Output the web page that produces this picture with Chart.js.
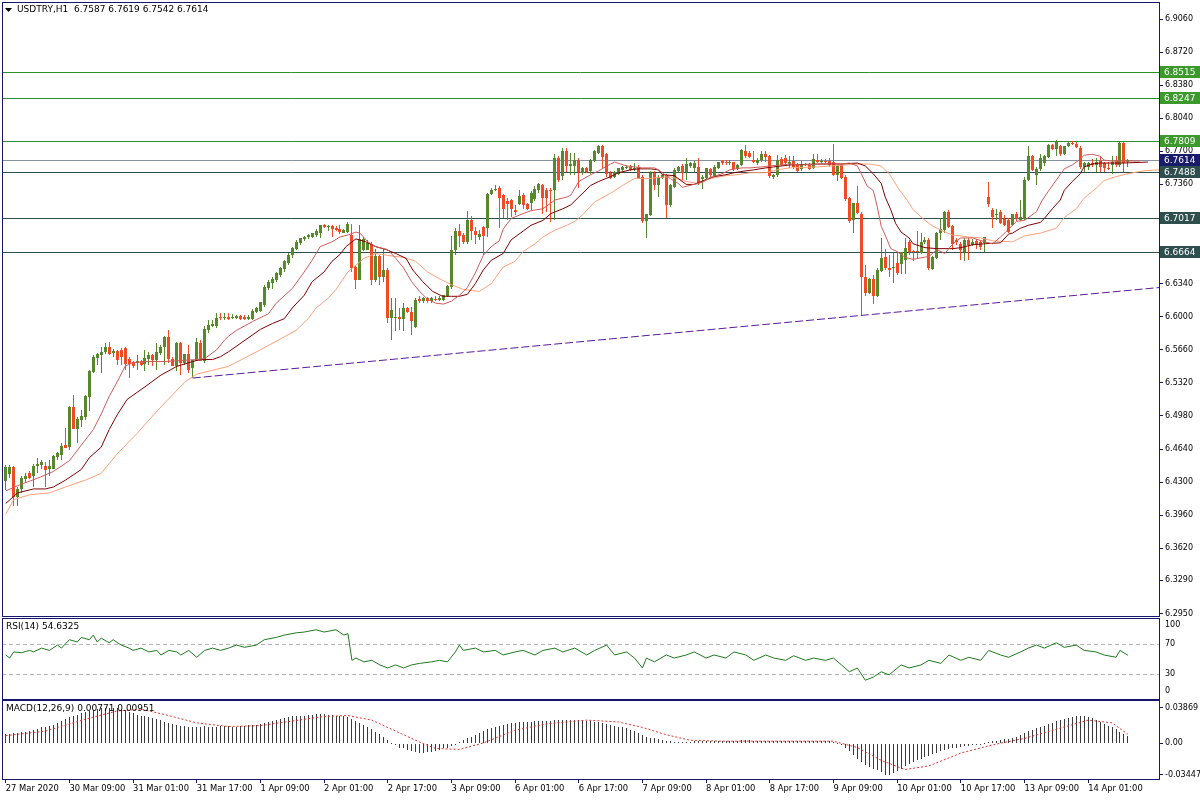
<!DOCTYPE html>
<html>
<head>
<meta charset="utf-8">
<title>USDTRY,H1</title>
<script src="https://cdn.jsdelivr.net/npm/chart.js@4.4.1/dist/chart.umd.min.js"></script>
<style>
  html, body { margin: 0; padding: 0; background: #fff; }
  #wrap { position: relative; width: 1200px; height: 800px; overflow: hidden; }
  canvas { position: absolute; left: 0; }
  #priceChart { top: 0; }
  #rsiChart { top: 617px; }
  #macdChart { top: 699px; }
</style>
</head>
<body>
<div id="wrap">
  <canvas id="priceChart" width="1200" height="617"></canvas>
  <canvas id="rsiChart" width="1200" height="83"></canvas>
  <canvas id="macdChart" width="1200" height="101"></canvas>
</div>
<script>
// ---- data ----
const symbolTitle = 'USDTRY,H1';
const lastQuote = ['6.7587', '6.7619', '6.7542', '6.7614'];

// hourly candles, bar 0 = 27 Mar 17:00
const opens = [
  6.431,6.438,6.446,6.415,6.423,6.433,6.439,6.436,6.447,6.448,
  6.447,6.443,6.444,6.456,6.458,6.468,6.466,6.507,6.485,6.494,
  6.497,6.518,6.543,6.558,6.561,6.564,6.569,6.563,6.565,6.566,
  6.568,6.557,6.553,6.552,6.554,6.551,6.557,6.561,6.556,6.563,
  6.569,6.579,6.557,6.549,6.573,6.552,6.562,6.547,6.555,6.573,
  6.555,6.586,6.590,6.590,6.600,6.599,6.600,6.599,6.599,6.601,
  6.600,6.598,6.598,6.605,6.606,6.612,6.630,6.635,6.638,6.643,
  6.649,6.655,6.663,6.670,6.676,6.680,6.682,6.682,6.684,6.686,
  6.694,6.692,6.693,6.691,6.690,6.686,6.687,6.684,6.651,6.638,
  6.669,6.669,6.675,6.638,6.662,6.641,6.648,6.599,6.599,6.600,
  6.598,6.609,6.605,6.589,6.618,6.616,6.619,6.616,6.618,6.617,
  6.617,6.621,6.631,6.669,6.688,6.684,6.677,6.699,6.688,6.682,
  6.692,6.691,6.726,6.730,6.732,6.725,6.719,6.720,6.710,6.716,
  6.725,6.716,6.717,6.721,6.730,6.735,6.730,6.730,6.730,6.763,
  6.745,6.770,6.755,6.755,6.761,6.748,6.753,6.750,6.760,6.768,
  6.776,6.767,6.748,6.744,6.747,6.751,6.753,6.754,6.752,6.754,
  6.744,6.698,6.705,6.748,6.735,6.743,6.746,6.715,6.733,6.750,
  6.755,6.749,6.755,6.753,6.754,6.742,6.743,6.752,6.745,6.753,
  6.760,6.759,6.758,6.759,6.752,6.756,6.770,6.768,6.761,6.758,
  6.761,6.767,6.765,6.744,6.746,6.762,6.763,6.757,6.760,6.756,
  6.752,6.757,6.756,6.753,6.761,6.759,6.760,6.760,6.759,6.746,
  6.756,6.744,6.722,6.699,6.717,6.706,6.641,6.624,6.639,6.621,
  6.647,6.661,6.650,6.650,6.655,6.654,6.658,6.677,6.668,6.668,
  6.666,6.677,6.679,6.649,6.660,6.686,6.689,6.708,6.693,6.679,
  6.675,6.667,6.679,6.674,6.678,6.677,6.676,6.723,6.710,6.705,
  6.708,6.700,6.699,6.694,6.706,6.699,6.700,6.741,6.765,6.746,
  6.752,6.758,6.764,6.777,6.772,6.775,6.767,6.775,6.779,6.778,
  6.773,6.754,6.754,6.758,6.756,6.761,6.758,6.753,6.756,6.761,
  6.756,6.779,6.7587
];
const highs = [
  6.448,6.448,6.447,6.425,6.436,6.439,6.441,6.449,6.455,6.453,
  6.451,6.453,6.458,6.461,6.470,6.486,6.508,6.520,6.497,6.504,
  6.520,6.545,6.561,6.563,6.569,6.573,6.574,6.567,6.566,6.568,
  6.569,6.559,6.554,6.561,6.556,6.566,6.564,6.562,6.573,6.571,
  6.580,6.586,6.559,6.574,6.574,6.562,6.571,6.556,6.578,6.576,
  6.590,6.597,6.597,6.604,6.604,6.604,6.604,6.603,6.602,6.602,
  6.602,6.602,6.608,6.610,6.615,6.633,6.638,6.641,6.646,6.651,
  6.658,6.665,6.672,6.679,6.681,6.683,6.685,6.686,6.690,6.694,
  6.695,6.694,6.694,6.693,6.694,6.690,6.697,6.695,6.652,6.694,
  6.682,6.679,6.677,6.670,6.663,6.670,6.650,6.619,6.619,6.609,
  6.614,6.610,6.610,6.619,6.621,6.620,6.620,6.620,6.621,6.621,
  6.622,6.633,6.683,6.691,6.695,6.686,6.709,6.704,6.692,6.689,
  6.693,6.727,6.732,6.735,6.734,6.726,6.722,6.721,6.715,6.730,
  6.727,6.717,6.729,6.734,6.737,6.736,6.732,6.732,6.767,6.765,
  6.773,6.773,6.768,6.768,6.763,6.754,6.754,6.762,6.771,6.777,
  6.777,6.768,6.750,6.750,6.753,6.755,6.756,6.756,6.758,6.756,
  6.746,6.706,6.750,6.750,6.746,6.747,6.747,6.736,6.753,6.755,
  6.757,6.763,6.759,6.760,6.763,6.746,6.753,6.753,6.756,6.759,
  6.761,6.761,6.761,6.759,6.757,6.772,6.777,6.770,6.770,6.763,
  6.770,6.770,6.766,6.747,6.766,6.764,6.766,6.765,6.765,6.758,
  6.760,6.758,6.758,6.767,6.767,6.762,6.762,6.763,6.778,6.756,
  6.757,6.746,6.723,6.717,6.734,6.708,6.653,6.640,6.643,6.650,
  6.681,6.670,6.663,6.665,6.665,6.667,6.681,6.679,6.669,6.688,
  6.686,6.682,6.681,6.662,6.687,6.701,6.709,6.710,6.694,6.681,
  6.677,6.681,6.681,6.680,6.680,6.679,6.682,6.738,6.712,6.711,
  6.710,6.705,6.701,6.706,6.708,6.720,6.744,6.775,6.766,6.754,
  6.767,6.766,6.778,6.778,6.782,6.777,6.775,6.780,6.781,6.780,
  6.775,6.759,6.759,6.762,6.763,6.765,6.759,6.759,6.765,6.765,
  6.780,6.780,6.7619
];
const lows = [
  6.422,6.434,6.405,6.405,6.419,6.429,6.433,6.425,6.439,6.443,
  6.425,6.436,6.443,6.453,6.453,6.465,6.463,6.485,6.470,6.487,
  6.494,6.503,6.542,6.550,6.542,6.562,6.561,6.559,6.550,6.550,
  6.545,6.537,6.547,6.545,6.549,6.544,6.550,6.549,6.545,6.561,
  6.550,6.552,6.549,6.544,6.540,6.550,6.542,6.537,6.554,6.554,
  6.552,6.583,6.589,6.588,6.597,6.597,6.597,6.598,6.598,6.597,
  6.597,6.597,6.597,6.604,6.605,6.610,6.627,6.629,6.636,6.641,
  6.646,6.653,6.660,6.669,6.674,6.678,6.680,6.681,6.682,6.681,
  6.691,6.688,6.682,6.688,6.685,6.686,6.686,6.646,6.628,6.638,
  6.668,6.669,6.633,6.636,6.633,6.636,6.594,6.576,6.585,6.586,
  6.585,6.604,6.581,6.588,6.614,6.614,6.614,6.614,6.616,6.616,
  6.616,6.620,6.629,6.663,6.672,6.675,6.675,6.679,6.675,6.679,
  6.663,6.682,6.725,6.729,6.691,6.701,6.699,6.703,6.705,6.715,
  6.711,6.710,6.710,6.719,6.727,6.706,6.708,6.697,6.699,6.739,
  6.741,6.749,6.746,6.746,6.732,6.746,6.748,6.747,6.759,6.767,
  6.753,6.744,6.742,6.743,6.746,6.750,6.752,6.750,6.750,6.742,
  6.696,6.681,6.704,6.730,6.723,6.742,6.701,6.713,6.732,6.748,
  6.741,6.741,6.753,6.749,6.735,6.731,6.742,6.743,6.743,6.752,
  6.756,6.756,6.756,6.750,6.751,6.755,6.763,6.763,6.758,6.756,
  6.759,6.759,6.743,6.742,6.744,6.755,6.756,6.753,6.752,6.749,
  6.750,6.755,6.751,6.752,6.758,6.758,6.758,6.754,6.745,6.740,
  6.742,6.719,6.696,6.686,6.706,6.602,6.621,6.623,6.613,6.620,
  6.646,6.648,6.641,6.635,6.643,6.644,6.644,6.663,6.657,6.660,
  6.664,6.675,6.648,6.648,6.659,6.679,6.686,6.691,6.669,6.674,
  6.658,6.657,6.658,6.673,6.670,6.669,6.667,6.713,6.691,6.699,
  6.695,6.693,6.686,6.693,6.698,6.698,6.699,6.740,6.750,6.735,
  6.750,6.755,6.763,6.771,6.765,6.765,6.766,6.774,6.777,6.773,
  6.752,6.749,6.751,6.754,6.749,6.749,6.749,6.751,6.747,6.754,
  6.754,6.749,6.7542
];
const closes = [
  6.446,6.446,6.415,6.423,6.434,6.436,6.434,6.447,6.449,6.451,
  6.442,6.447,6.457,6.460,6.467,6.465,6.507,6.485,6.495,6.498,
  6.519,6.544,6.559,6.562,6.564,6.569,6.562,6.565,6.556,6.559,
  6.551,6.551,6.549,6.554,6.550,6.558,6.561,6.556,6.564,6.569,
  6.579,6.557,6.549,6.573,6.552,6.562,6.545,6.556,6.574,6.554,
  6.587,6.591,6.593,6.599,6.599,6.600,6.598,6.600,6.601,6.598,
  6.598,6.600,6.606,6.609,6.615,6.631,6.636,6.639,6.645,6.650,
  6.657,6.663,6.671,6.677,6.681,6.682,6.684,6.686,6.688,6.694,
  6.692,6.693,6.690,6.689,6.687,6.689,6.695,6.650,6.638,6.680,
  6.680,6.676,6.638,6.662,6.641,6.648,6.599,6.607,6.600,6.598,
  6.609,6.605,6.596,6.617,6.616,6.619,6.616,6.619,6.617,6.619,
  6.622,6.632,6.669,6.688,6.683,6.677,6.699,6.688,6.684,6.685,
  6.683,6.726,6.730,6.731,6.722,6.711,6.716,6.711,6.708,6.724,
  6.715,6.711,6.727,6.731,6.736,6.722,6.722,6.729,6.763,6.741,
  6.770,6.755,6.757,6.761,6.749,6.753,6.749,6.761,6.770,6.776,
  6.764,6.747,6.743,6.749,6.753,6.754,6.754,6.751,6.753,6.742,
  6.698,6.706,6.748,6.735,6.744,6.746,6.715,6.735,6.751,6.754,
  6.748,6.757,6.758,6.758,6.737,6.744,6.753,6.746,6.754,6.759,
  6.758,6.758,6.759,6.752,6.756,6.771,6.765,6.764,6.759,6.761,
  6.767,6.764,6.745,6.746,6.761,6.756,6.758,6.759,6.754,6.750,
  6.757,6.756,6.752,6.762,6.759,6.760,6.759,6.756,6.746,6.755,
  6.743,6.721,6.698,6.717,6.707,6.641,6.624,6.639,6.621,6.648,
  6.660,6.650,6.648,6.651,6.645,6.667,6.671,6.667,6.667,6.667,
  6.677,6.679,6.650,6.661,6.686,6.690,6.708,6.692,6.675,6.677,
  6.669,6.679,6.674,6.677,6.674,6.672,6.682,6.716,6.703,6.706,
  6.696,6.694,6.687,6.706,6.700,6.703,6.741,6.765,6.751,6.752,
  6.763,6.765,6.777,6.772,6.781,6.767,6.775,6.779,6.778,6.774,
  6.754,6.758,6.758,6.756,6.759,6.754,6.753,6.752,6.759,6.756,
  6.779,6.758,6.7614
];

// moving average lines, read at turning points (bar position, price)
const maFastBars = [0,4,8,12,16,19,22,24,26,28,30,32,36,40,44,48,50,53,55,56,58,62,63,66,68,72,75,77,79,82,84,86,88,89,91,93,96,98,100,102,104,106,108,110,112,114,116,118,120,122,124,125,127,130,132,135,136,138,141,142,144,147,149,152,153,156,158,160,163,164,165,167,169,170,172,175,177,180,182,185,187,190,192,195,197,200,206,210,212,214,215,216.5,218,219,220,221.5,222.4,224,226,228,232,234,236,238,240,243,246,248,250,252,254,256,259,260.5,262,264.6,266,268,270,271,273,275,276,278,281,285];
const maFastValues = [6.421,6.428,6.434,6.441,6.452,6.468,6.484,6.500,6.518,6.533,6.549,6.553,6.554,6.554,6.555,6.556,6.557,6.566,6.576,6.580,6.586,6.595,6.597,6.603,6.614,6.629,6.646,6.658,6.672,6.677,6.682,6.684,6.687,6.686,6.677,6.672,6.669,6.660,6.650,6.636,6.626,6.618,6.614,6.613,6.616,6.622,6.630,6.645,6.663,6.672,6.678,6.690,6.701,6.706,6.709,6.711,6.714,6.720,6.723,6.725,6.739,6.746,6.750,6.757,6.759,6.755,6.754,6.753,6.753,6.751,6.748,6.742,6.737,6.733,6.735,6.738,6.743,6.747,6.751,6.753,6.753,6.754,6.755,6.756,6.757,6.756,6.757,6.757,6.758,6.755,6.747,6.734,6.730,6.713,6.693,6.679,6.670,6.667,6.661,6.659,6.662,6.669,6.665,6.675,6.681,6.681,6.677,6.675,6.682,6.690,6.698,6.699,6.708,6.720,6.729,6.744,6.752,6.756,6.762,6.766,6.767,6.765,6.761,6.760,6.760,6.760];
const maMidBars = [0,3,7,10,12,15,19,21,24,26,28,30.5,35,39,43,47,49,52,54,56,64,67,70,72,75,77,80,82,84,85.5,88,90.5,93,95.6,98,100.6,102.3,104.8,107.3,109.8,112,114,116,118,120,122,125,127,130,132,135,137,140,142,144,147,149,152,154,157,159,162,164,165,168,171,173,176,178,181,183,186,188,191,193,197,204,210,214,216,218,220,221,222.4,223.6,225,227,228,231,234,238,240,243,246,250,252,253,255,257,260,261,263,265,266,268,270,271,273,275,281,287];
const maMidValues = [6.408,6.419,6.423,6.423,6.425,6.432,6.443,6.455,6.466,6.484,6.499,6.515,6.528,6.540,6.549,6.554,6.556,6.556,6.559,6.564,6.587,6.593,6.598,6.609,6.622,6.636,6.646,6.657,6.664,6.672,6.680,6.677,6.672,6.669,6.665,6.660,6.648,6.636,6.626,6.621,6.621,6.621,6.623,6.634,6.648,6.658,6.665,6.679,6.688,6.694,6.699,6.706,6.711,6.715,6.723,6.735,6.739,6.744,6.748,6.751,6.752,6.752,6.751,6.746,6.745,6.736,6.736,6.741,6.744,6.746,6.748,6.750,6.751,6.753,6.754,6.756,6.757,6.757,6.758,6.755,6.747,6.737,6.723,6.710,6.696,6.687,6.681,6.675,6.671,6.670,6.670,6.671,6.674,6.675,6.676,6.685,6.686,6.691,6.694,6.697,6.701,6.711,6.720,6.730,6.739,6.747,6.754,6.757,6.758,6.758,6.759];
const maSlowBars = [0,2,6,11,15,20,24,28,33,38,42,45,48,52,56,64,73,76,78,81,83,86,90,93,96,100,103,106,109,112,115,119,122,125,128,130,133,135,138,141,143,145,148,152,155,158,161,164,167,171,174,177,181,184,187,191,194,197,204,211,214,217,220,222,224,225,226.5,228,231,233,236,238,242,245,248,253,256,260,264,266,269,271,274,276,279,282,286,289.8];
const maSlowValues = [6.397,6.412,6.417,6.419,6.425,6.432,6.439,6.459,6.480,6.503,6.520,6.533,6.541,6.545,6.549,6.566,6.586,6.598,6.609,6.619,6.628,6.646,6.660,6.665,6.663,6.661,6.657,6.646,6.639,6.633,6.628,6.626,6.634,6.651,6.657,6.667,6.675,6.682,6.689,6.694,6.698,6.705,6.718,6.727,6.735,6.742,6.742,6.743,6.744,6.739,6.737,6.742,6.745,6.746,6.748,6.748,6.751,6.753,6.754,6.756,6.757,6.757,6.755,6.747,6.734,6.728,6.720,6.710,6.699,6.693,6.687,6.684,6.682,6.681,6.678,6.677,6.683,6.686,6.691,6.702,6.711,6.722,6.732,6.740,6.744,6.747,6.750,6.751];

// trend line anchors and horizontal levels
const trendBars = [47, 289.8];
const trendPrices = [6.537, 6.630];
const levelPrices = [6.8515, 6.8247, 6.7809, 6.7614, 6.7488, 6.7017, 6.6664];
const priceTicks = [6.2950,6.3290,6.3620,6.3960,6.4300,6.4640,6.4980,6.5320,6.5660,6.6000,6.6340,6.7360,6.7700,6.8040,6.8380,6.8720,6.9060];

// RSI(14), read at its turning points
const rsiLast = '54.6325';
const rsiBars = [0,1,2,4,6,7,9,11,13,14,16,18,19,21,22,23,24,26,27,29,31,32,34,36,38,39,41,43,44,46,48,50,52,54,56,58,60,63,65,68,70,73,75,78,80,83,85,86,87,88,90,92,94,96,98,100,102,104,107,109,111,113,114,115,118,120,123,125,128,130,133,135,138,140,143,146,148,151,153,156,158,160,161,163,166,168,171,173,176,178,181,183,186,188,191,193,196,198,201,203,206,208,210,212,214,216,218,220,222,225,227,230,232,235,237,240,242,245,247,250,252,255,257,259,261,264,266,269,271,274,276,279,280,282];
const rsiValues = [55,51,59,58,61,59,64,61,68,64,75,72,78,75,81,72,77,71,75,68,64,61,64,59,61,55,61,59,55,61,52,61,64,61,64,68,65,68,75,78,81,84,85,88,85,88,81,83,48,51,46,48,42,38,42,38,42,44,46,48,46,59,68,61,64,59,61,55,59,61,55,61,64,59,64,55,61,68,55,59,51,38,51,46,55,51,55,59,51,55,51,59,55,48,55,51,48,54,48,51,48,51,42,33,38,22,26,33,29,42,38,42,48,44,55,48,52,48,61,55,52,59,64,68,64,71,65,68,61,59,55,52,61,54.63];
const rsiLevels = [70, 30];
const rsiTicks = [100, 70, 30, 0];

// MACD(12,26,9): main value per bar and signal line
const macdLast = ['0.00771', '0.00951'];
const macdValues = [
  0.010,0.010,0.011,0.011,0.012,0.012,0.013,0.014,0.015,0.017,
  0.018,0.019,0.020,0.022,0.024,0.026,0.028,0.030,0.031,0.033,
  0.034,0.035,0.036,0.037,0.038,0.0387,0.0387,0.0385,0.038,0.037,
  0.036,0.034,0.033,0.031,0.030,0.029,0.028,0.027,0.026,0.025,
  0.023,0.022,0.021,0.020,0.019,0.019,0.018,0.018,0.017,0.018,
  0.019,0.018,0.018,0.018,0.019,0.019,0.019,0.018,0.018,0.019,
  0.019,0.020,0.020,0.020,0.021,0.022,0.023,0.024,0.025,0.026,
  0.027,0.028,0.029,0.029,0.030,0.030,0.031,0.031,0.032,0.032,
  0.032,0.031,0.031,0.030,0.030,0.029,0.028,0.026,0.024,0.022,
  0.020,0.017,0.015,0.012,0.010,0.007,0.003,0.000,-0.002,-0.005,
  -0.006,-0.008,-0.009,-0.010,-0.011,-0.011,-0.010,-0.010,-0.009,-0.008,
  -0.006,-0.005,-0.003,-0.001,0.001,0.003,0.005,0.007,0.009,0.011,
  0.013,0.015,0.016,0.018,0.019,0.020,0.021,0.022,0.022,0.023,
  0.023,0.023,0.023,0.024,0.024,0.024,0.024,0.024,0.025,0.025,
  0.025,0.025,0.025,0.025,0.025,0.025,0.024,0.024,0.023,0.023,
  0.022,0.021,0.020,0.019,0.018,0.017,0.016,0.014,0.013,0.011,
  0.009,0.007,0.006,0.005,0.004,0.003,0.002,0.002,0.001,0.001,
  0.001,0.001,0.001,0.002,0.002,0.002,0.002,0.002,0.002,0.002,
  0.002,0.002,0.002,0.002,0.002,0.003,0.003,0.003,0.002,0.002,
  0.002,0.002,0.002,0.002,0.002,0.002,0.002,0.002,0.002,0.002,
  0.002,0.002,0.002,0.002,0.002,0.002,0.002,0.002,0.001,0.000,
  -0.002,-0.005,-0.009,-0.013,-0.018,-0.021,-0.024,-0.026,-0.028,-0.030,
  -0.032,-0.0345,-0.0345,-0.033,-0.031,-0.028,-0.025,-0.023,-0.021,-0.019,
  -0.017,-0.015,-0.014,-0.012,-0.011,-0.009,-0.008,-0.007,-0.006,-0.005,
  -0.004,-0.003,-0.003,-0.002,-0.001,-0.001,0.000,0.001,0.002,0.002,
  0.003,0.004,0.004,0.005,0.007,0.009,0.011,0.013,0.014,0.016,
  0.018,0.019,0.021,0.022,0.024,0.025,0.026,0.027,0.028,0.029,
  0.029,0.029,0.028,0.027,0.025,0.023,0.021,0.019,0.017,0.015,
  0.012,0.010,0.0077
];
const signalBars = [0,10,20,28,34,40,48,56,64,72,80,86,92,98,104,108,114,120,128,136,146,154,160,166,172,180,208,214,220,226,232,240,248,256,264,272,278,282];
const signalValues = [0.008,0.013,0.026,0.035,0.037,0.031,0.022,0.018,0.019,0.024,0.029,0.030,0.025,0.013,0.001,-0.006,-0.007,0.000,0.014,0.021,0.025,0.023,0.017,0.009,0.003,0.002,0.002,-0.005,-0.019,-0.029,-0.025,-0.011,-0.002,0.005,0.015,0.025,0.022,0.0095];
const macdTicks = [0.03869, 0, -0.03447];

// x axis labels, one every 16 bars
const xTickBars = [0,16,32,48,64,80,96,112,128,144,160,176,192,208,224,240,256,272];
const xTickLabels = ['27 Mar 2020','30 Mar 09:00','31 Mar 01:00','31 Mar 17:00','1 Apr 09:00','2 Apr 01:00','2 Apr 17:00','3 Apr 09:00','6 Apr 01:00','6 Apr 17:00','7 Apr 09:00','8 Apr 01:00','8 Apr 17:00','9 Apr 09:00','10 Apr 01:00','10 Apr 17:00','13 Apr 09:00','14 Apr 01:00'];

// ---- look ----
const FRAME = '#16166b';
const TEXT = '#000000';
const AXIS_FONT = { family: 'DejaVu Sans', size: 8 };
const DATE_FONT = { family: 'DejaVu Sans', size: 8.4 };
const TITLE_CSS = "9px 'DejaVu Sans'";
const UP = '#55892b';
const DOWN = '#f04b24';
const X_MIN = -0.93, X_MAX = 289.8;
const levelStyles = [
  { line: '#2f8f2f', box: '#3c9a2c' },
  { line: '#2f8f2f', box: '#3c9a2c' },
  { line: '#2f8f2f', box: '#3c9a2c' },
  { line: '#8391a0', box: '#1b1b6b' },
  { line: '#2f4f4f', box: '#2f4f4f' },
  { line: '#2f4f4f', box: '#2f4f4f' },
  { line: '#2f4f4f', box: '#2f4f4f' }
];

const pts = (xs, ys) => xs.map((x, i) => ({ x: x, y: ys[i] }));

// frame around each pane + pixel snapping for thin bars
const paneFrame = {
  id: 'paneFrame',
  afterDatasetsUpdate(chart) {
    chart.data.datasets.forEach((ds, i) => {
      if (!ds.snap) return;
      chart.getDatasetMeta(i).data.forEach(el => {
        el.x = Math.floor(el.x) + 0.5;
        el.y = Math.round(el.y);
        el.base = Math.round(el.base);
        if (Math.abs(el.y - el.base) < 1) el.base = el.y + 1;
      });
    });
  },
  afterDraw(chart) {
    const a = chart.chartArea, ctx = chart.ctx;
    ctx.save();
    ctx.strokeStyle = FRAME;
    ctx.lineWidth = 1;
    ctx.strokeRect(Math.round(a.left) + 0.5, Math.round(a.top) + 0.5,
      Math.round(a.right - a.left), Math.round(a.bottom - a.top));
    const title = chart.options.plugins.paneFrame.title;
    if (title) {
      ctx.fillStyle = TEXT;
      ctx.font = TITLE_CSS;
      ctx.textBaseline = 'middle';
      ctx.fillText(title.text, title.x, title.y);
      if (title.arrow) {
        ctx.beginPath();
        ctx.moveTo(5, 8); ctx.lineTo(12, 8); ctx.lineTo(8.5, 12);
        ctx.closePath();
        ctx.fill();
      }
    }
    ctx.restore();
  }
};

// horizontal levels (behind candles) and their price boxes on the axis
const levelOverlay = {
  id: 'levelOverlay',
  beforeDatasetsDraw(chart) {
    const { ctx, chartArea: a, scales: { y } } = chart;
    ctx.save();
    ctx.lineWidth = 1;
    levelPrices.forEach((v, i) => {
      const py = Math.round(y.getPixelForValue(v)) + 0.5;
      ctx.strokeStyle = levelStyles[i].line;
      ctx.beginPath();
      ctx.moveTo(a.left, py);
      ctx.lineTo(a.right, py);
      ctx.stroke();
    });
    ctx.restore();
  },
  afterDraw(chart) {
    const { ctx, chartArea: a, scales: { y } } = chart;
    ctx.save();
    ctx.font = TITLE_CSS;
    ctx.textBaseline = 'middle';
    levelPrices.forEach((v, i) => {
      const py = Math.round(y.getPixelForValue(v));
      ctx.fillStyle = levelStyles[i].box;
      ctx.fillRect(a.right + 1, py - 6, 40, 12);
      ctx.fillStyle = '#ffffff';
      ctx.fillText(v.toFixed(4), a.right + 5, py + 0.5);
    });
    ctx.restore();
  }
};

// dashed 70/30 levels in the RSI pane
const rsiLevelLines = {
  id: 'rsiLevelLines',
  beforeDatasetsDraw(chart) {
    const { ctx, chartArea: a, scales: { y } } = chart;
    ctx.save();
    ctx.strokeStyle = '#b4b4b4';
    ctx.setLineDash([4, 3]);
    rsiLevels.forEach(v => {
      const py = Math.round(y.getPixelForValue(v)) + 0.5;
      ctx.beginPath();
      ctx.moveTo(a.left, py);
      ctx.lineTo(a.right, py);
      ctx.stroke();
    });
    ctx.restore();
  }
};

function xAxis(show) {
  return {
    type: 'linear', min: X_MIN, max: X_MAX, display: show, offset: false,
    border: { display: false },
    grid: { offset: false, drawOnChartArea: false, drawTicks: true, tickLength: 4, color: FRAME },
    afterBuildTicks: s => { s.ticks = xTickBars.map(v => ({ value: v })); },
    afterFit: s => {
      s.height = show ? 21 : 0;
      s.paddingLeft = 0;
      s.paddingRight = 0;
    },
    ticks: {
      autoSkip: false, maxRotation: 0, align: 'start', padding: 1,
      color: TEXT, font: DATE_FONT,
      callback: (v, i) => xTickLabels[i]
    }
  };
}

function yAxis(min, max, ticks, fmt, tickMarks) {
  return {
    type: 'linear', position: 'right', min: min, max: max,
    border: { display: false },
    grid: { drawOnChartArea: false, drawTicks: tickMarks, tickLength: 4, color: FRAME },
    afterBuildTicks: s => { s.ticks = ticks.map(v => ({ value: v })); },
    afterFit: s => { s.width = 41; s.paddingTop = 0; s.paddingBottom = 0; },
    ticks: {
      autoSkip: false, padding: tickMarks ? 2 : 6,
      color: TEXT, font: AXIS_FONT, callback: fmt
    }
  };
}

const baseOptions = (padding) => ({
  responsive: false,
  animation: false,
  events: [],
  layout: { padding: padding, autoPadding: false },
  plugins: { legend: { display: false }, tooltip: { enabled: false } }
});

function initPriceChart() {
  const ctx = document.getElementById('priceChart').getContext('2d');
  const bars = closes.map((c, i) => i);
  const colors = closes.map((c, i) => (c >= opens[i] ? UP : DOWN));
  const opts = baseOptions({ left: 2, top: 2, right: 0, bottom: 1 });
  opts.scales = {
    x: xAxis(false),
    y: yAxis(6.2924, 6.9235, priceTicks, v => v.toFixed(4), true)
  };
  opts.plugins.paneFrame = {
    title: { text: symbolTitle + '  ' + lastQuote.join(' '), x: 17, y: 10, arrow: true }
  };
  new Chart(ctx, {
    type: 'bar',
    data: {
      datasets: [
        {
          type: 'line', label: 'trend', data: pts(trendBars, trendPrices),
          borderColor: '#5a1a9e', borderWidth: 1, borderDash: [8, 3],
          pointRadius: 0, order: 0
        },
        {
          type: 'line', label: 'MA fast', data: pts(maFastBars, maFastValues),
          borderColor: '#cd5c5c', borderWidth: 1, pointRadius: 0, order: 1
        },
        {
          type: 'line', label: 'MA mid', data: pts(maMidBars, maMidValues),
          borderColor: '#800000', borderWidth: 1, pointRadius: 0, order: 1
        },
        {
          type: 'line', label: 'MA slow', data: pts(maSlowBars, maSlowValues),
          borderColor: '#ffa07a', borderWidth: 1, pointRadius: 0, order: 1
        },
        {
          label: 'body', data: bars.map(i => ({ x: i, y: [opens[i], closes[i]] })),
          backgroundColor: colors, barThickness: 3, minBarLength: 1,
          grouped: false, inflateAmount: 0, snap: true, order: 2
        },
        {
          label: 'wick', data: bars.map(i => ({ x: i, y: [lows[i], highs[i]] })),
          backgroundColor: colors, barThickness: 1, minBarLength: 1,
          grouped: false, inflateAmount: 0, snap: true, order: 3
        }
      ]
    },
    options: opts,
    plugins: [paneFrame, levelOverlay]
  });
}

function initRsiChart() {
  const ctx = document.getElementById('rsiChart').getContext('2d');
  const opts = baseOptions({ left: 2, top: 1, right: 0, bottom: 1 });
  // MT4 pulls the 100 and 0 labels inside the pane
  opts.scales = {
    x: xAxis(false),
    y: yAxis(-2.6, 103.4, rsiTicks.map(v => Math.min(94.2, Math.max(7.7, v))),
      (v, i) => String(rsiTicks[i]), false)
  };
  opts.plugins.paneFrame = { title: { text: 'RSI(14) ' + rsiLast, x: 6, y: 10 } };
  new Chart(ctx, {
    type: 'line',
    data: {
      datasets: [{
        data: pts(rsiBars, rsiValues), borderColor: '#1f7a1f', borderWidth: 1,
        pointRadius: 0
      }]
    },
    options: opts,
    plugins: [paneFrame, rsiLevelLines]
  });
}

function initMacdChart() {
  const ctx = document.getElementById('macdChart').getContext('2d');
  const opts = baseOptions({ left: 2, top: 1, right: 0, bottom: 0 });
  opts.scales = {
    x: xAxis(true),
    y: yAxis(-0.03934, 0.04699, macdTicks, v => (v === 0 ? '0.00' : v.toFixed(5)), true)
  };
  opts.plugins.paneFrame = {
    title: { text: 'MACD(12,26,9) ' + macdLast.join(' '), x: 6, y: 10 }
  };
  new Chart(ctx, {
    type: 'bar',
    data: {
      datasets: [
        {
          type: 'line', data: pts(signalBars, signalValues), borderColor: '#e8322a',
          borderWidth: 1, borderDash: [2, 2], pointRadius: 0, order: 0
        },
        {
          data: macdValues.map((v, i) => ({ x: i, y: v })), backgroundColor: '#3a3a3a',
          barThickness: 1, grouped: false, inflateAmount: 0, snap: true, order: 1
        }
      ]
    },
    options: opts,
    plugins: [paneFrame]
  });
}

document.addEventListener('DOMContentLoaded', () => {
  initPriceChart();
  initRsiChart();
  initMacdChart();
});
</script>
</body>
</html>
